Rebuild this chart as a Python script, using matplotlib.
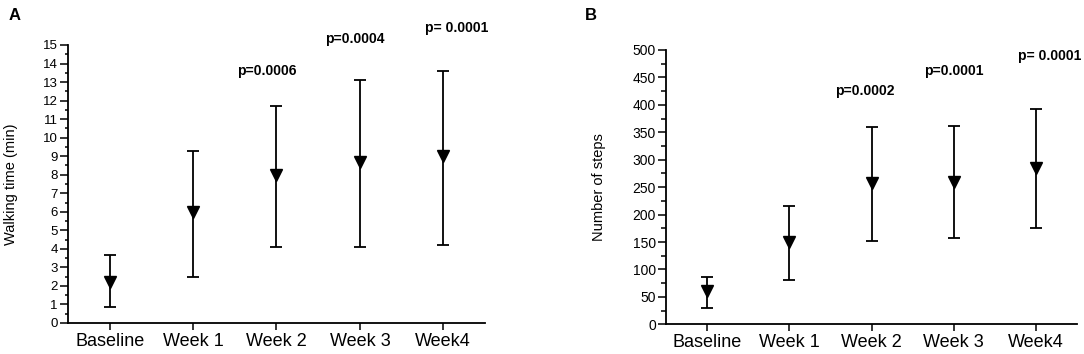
import numpy as np
import matplotlib
matplotlib.use("Agg")
import matplotlib.pyplot as plt
from matplotlib.ticker import MultipleLocator

plt.rcParams['font.family'] = ['Liberation Sans', 'DejaVu Sans']

categories = ["Baseline", "Week 1", "Week 2", "Week 3", "Week4"]

# Panel A: walking time (min)
time_mean = [2.2, 6.0, 8.0, 8.7, 9.0]
time_low = [0.85, 2.5, 4.1, 4.1, 4.2]
time_high = [3.65, 9.3, 11.7, 13.1, 13.6]
time_p = ["", "", "p=0.0006", "p=0.0004", "p= 0.0001"]
time_p_y = [0, 0, 13.6, 15.3, 15.9]
time_p_dx = [0, 0, -0.12, -0.06, 0.16]

# Panel B: number of steps
steps_mean = [60, 150, 257, 260, 285]
steps_low = [29, 81, 152, 157, 175]
steps_high = [87, 215, 360, 361, 393]
steps_p = ["", "", "p=0.0002", "p=0.0001", "p= 0.0001"]
steps_p_y = [0, 0, 425, 462, 489]
steps_p_dx = [0, 0, -0.08, 0.0, 0.17]

fig = plt.figure(figsize=(10.84, 3.54), dpi=100)
ax_a = fig.add_axes([0.0627, 0.0876, 0.3847, 0.7853])
ax_b = fig.add_axes([0.6144, 0.0839, 0.3792, 0.7749])


def draw_panel(ax, mean, low, high, ylim, major, minor, ylabel, label_x,
               pvals, pys, pdx, ticksize, minor_len):
    x = np.arange(len(categories))
    mean = np.array(mean)
    yerr = [mean - np.array(low), np.array(high) - mean]
    ax.errorbar(x, mean, yerr=yerr, fmt='v', color='black', ecolor='black',
                markersize=8, elinewidth=1.3, capsize=4.5, capthick=1.3, zorder=3)
    ax.set_xlim(-0.5, 4.5)
    ax.set_ylim(*ylim)
    ax.set_xticks(x)
    ax.set_xticklabels(categories, fontsize=13)
    ax.yaxis.set_major_locator(MultipleLocator(major))
    ax.yaxis.set_minor_locator(MultipleLocator(minor))
    ax.tick_params(axis='y', labelsize=ticksize, length=5.8, width=1.1, pad=1.5)
    ax.tick_params(axis='y', which='minor', length=minor_len, width=1.1)
    ax.tick_params(axis='x', length=5, width=1.1, pad=2)
    # label anchor is the right edge of the rotated text
    ax.set_ylabel(ylabel, fontsize=10.5)
    ax.yaxis.set_label_coords(label_x, 0.5)
    for side in ['top', 'right']:
        ax.spines[side].set_visible(False)
    for side in ['left', 'bottom']:
        ax.spines[side].set_linewidth(1.3)
    for i, (p, py, dx) in enumerate(zip(pvals, pys, pdx)):
        if p:
            ax.text(i + dx, py, p, ha='center', va='center', fontsize=10,
                    fontweight='bold', clip_on=False)


draw_panel(ax_a, time_mean, time_low, time_high, (0, 15), 1, 0.5,
           "Walking time (min)", -0.12, time_p, time_p_y, time_p_dx, 9.5, 2.5)
draw_panel(ax_b, steps_mean, steps_low, steps_high, (0, 500), 50, 25,
           "Number of steps", -0.146, steps_p, steps_p_y, steps_p_dx, 10, 3.5)

fig.text(15 / 1084, 1 - 15 / 354, "A", fontsize=12, fontweight='bold',
         ha='center', va='center')
fig.text(591 / 1084, 1 - 15 / 354, "B", fontsize=12, fontweight='bold',
         ha='center', va='center')

fig.savefig("out.png", dpi=100)
